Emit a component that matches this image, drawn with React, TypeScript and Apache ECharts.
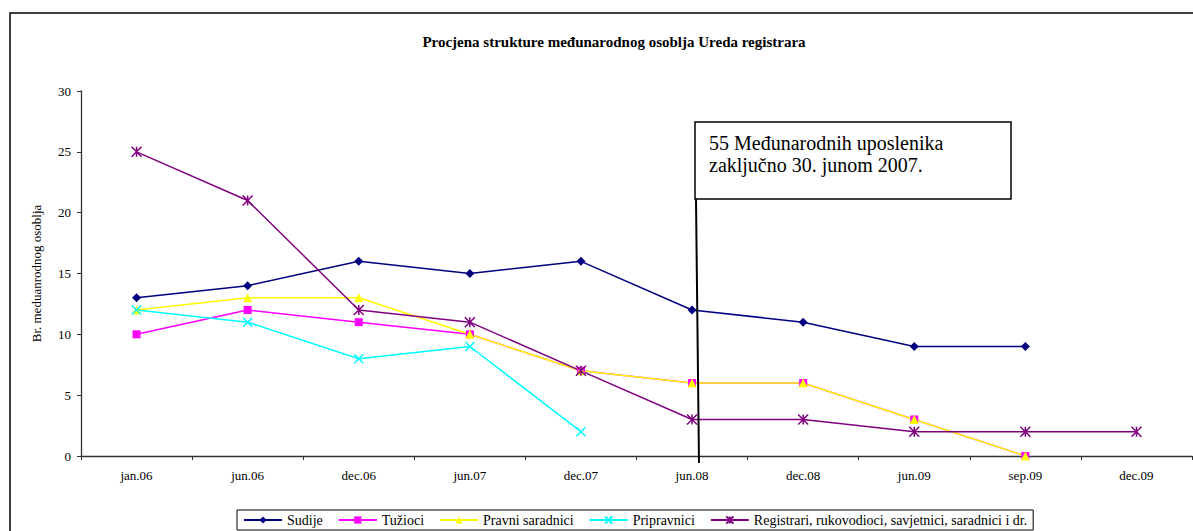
import React, { useEffect, useRef } from "react";
import * as echarts from "echarts";

const categories = ["jan.06", "jun.06", "dec.06", "jun.07", "dec.07", "jun.08", "dec.08", "jun.09", "sep.09", "dec.09"];
const sudije = [13, 14, 16, 15, 16, 12, 11, 9, 9, null];
const tuzioci = [10, 12, 11, 10, 7, 6, 6, 3, 0, null];
const pravniSaradnici = [12, 13, 13, 10, 7, 6, 6, 3, 0, null];
const pripravnici = [12, 11, 8, 9, 2, null, null, null, null, null];
const registrari = [25, 21, 12, 11, 7, 3, 3, 2, 2, 2];
const yTicks = { min: 0, max: 30, interval: 5 };

const FONT = "Times New Roman";

const X_PATH = "path://M0,0L10,10M10,0L0,10";
const STAR_PATH = "path://M0,0L10,10M10,0L0,10M5,0L5,10";

export default function App() {
  const ref = useRef<HTMLDivElement>(null);
  useEffect(() => {
    if (!ref.current) return;
    const chart = echarts.init(ref.current, null, { renderer: "svg" });
    const mk = (name: string, data: any[], color: string, symbol: string, size: number, stroke = false) => ({
      name,
      type: "line",
      data,
      symbol,
      symbolSize: size,
      connectNulls: false,
      color,
      lineStyle: { color, width: 1.5 },
      itemStyle: stroke
        ? { color: "rgba(0,0,0,0)", borderColor: color, borderWidth: 1.5 }
        : { color, borderColor: color, borderWidth: 0 },
      emphasis: { disabled: true },
    });
    chart.setOption({
      animation: false,
      backgroundColor: "#fff",
      textStyle: { fontFamily: FONT },
      title: {
        text: "Procjena strukture međunarodnog osoblja Ureda registrara",
        left: 609,
        textAlign: "center",
        top: 29,
        textStyle: { fontFamily: FONT, fontSize: 15, fontWeight: "bold", color: "#000" },
      },
      grid: { left: 81, right: 1, top: 91, bottom: 75, containLabel: false },
      xAxis: {
        type: "category",
        data: categories,
        boundaryGap: true,
        axisLine: { lineStyle: { color: "#333", width: 1.3 } },
        axisTick: { show: true, length: 4, inside: false, lineStyle: { color: "#333" } },
        axisLabel: { fontFamily: FONT, fontSize: 13, color: "#000", margin: 13 },
        splitLine: { show: false },
      },
      yAxis: {
        type: "value",
        min: yTicks.min,
        max: yTicks.max,
        interval: yTicks.interval,
        name: "Br. meduanrodnog osoblja",
        nameLocation: "middle",
        nameGap: 38,
        nameRotate: 90,
        nameTextStyle: { fontFamily: FONT, fontSize: 13, color: "#000" },
        axisLine: { show: true, lineStyle: { color: "#333", width: 1.3 } },
        axisTick: { show: true, length: 4, lineStyle: { color: "#333" } },
        axisLabel: { fontFamily: FONT, fontSize: 13, color: "#000", margin: 10 },
        splitLine: { show: false },
      },
      legend: {
        left: 237,
        top: 510,
        orient: "horizontal",
        borderColor: "#000",
        borderWidth: 1,
        borderRadius: 0,
        padding: [3, 6],
        itemGap: 15,
        itemWidth: 38,
        itemHeight: 9,
        textStyle: { fontFamily: FONT, fontSize: 14, color: "#000" },
      },
      series: [
        mk("Sudije", sudije, "#000080", "diamond", 9),
        mk("Tužioci", tuzioci, "#FF00FF", "rect", 8),
        mk("Pravni saradnici", pravniSaradnici, "#FFFF00", "triangle", 9),
        mk("Pripravnici", pripravnici, "#00FFFF", X_PATH, 9, true),
        mk("Registrari, rukovodioci, savjetnici, saradnici i dr.", registrari, "#800080", STAR_PATH, 10, true),
      ],
      graphic: [
        {
          type: "rect",
          shape: { x: 10, y: 13, width: 1200, height: 600 },
          style: { fill: "none", stroke: "#000", lineWidth: 1.5 },
          silent: true,
          z: -1,
        },
        {
          type: "line",
          shape: { x1: 696, y1: 199, x2: 699, y2: 463 },
          style: { stroke: "#000", lineWidth: 2 },
          z: 100,
        },
        {
          type: "rect",
          shape: { x: 695, y: 122, width: 316, height: 77 },
          style: { fill: "#fff", stroke: "#000", lineWidth: 1.5 },
          z: 100,
        },
        {
          type: "text",
          x: 709,
          y: 132,
          style: {
            text: "55 Međunarodnih uposlenika\nzaključno 30. junom 2007.",
            fontFamily: FONT,
            fontSize: 20,
            lineHeight: 22,
            fill: "#000",
          },
          z: 101,
        },
      ],
    });
    return () => chart.dispose();
  }, []);
  return (
    <div
      ref={ref}
      style={{ position: "fixed", left: 0, top: 0, width: 1193, height: 531, background: "#fff" }}
    />
  );
}
